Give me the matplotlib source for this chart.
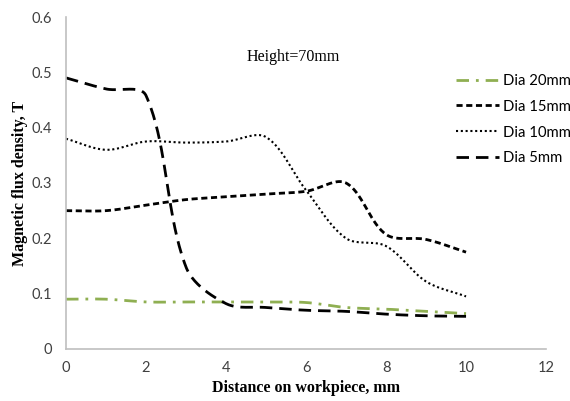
import numpy as np
import matplotlib
matplotlib.use("Agg")
import matplotlib.pyplot as plt

# Measured flux density along the workpiece, height 70 mm
distance = [0, 1, 2, 3, 4, 5, 6, 7, 8, 9, 10]
dia_20mm = [0.090, 0.090, 0.085, 0.085, 0.085, 0.085, 0.084, 0.075, 0.072, 0.068, 0.064]
dia_15mm = [0.250, 0.250, 0.260, 0.270, 0.275, 0.280, 0.285, 0.300, 0.207, 0.198, 0.175]
dia_10mm = [0.380, 0.360, 0.375, 0.373, 0.375, 0.383, 0.287, 0.200, 0.186, 0.122, 0.095]
dia_5mm = [0.490, 0.470, 0.458, 0.148, 0.082, 0.075, 0.070, 0.068, 0.063, 0.060, 0.059]

x_ticks = [0, 2, 4, 6, 8, 10, 12]
y_ticks = [0, 0.1, 0.2, 0.3, 0.4, 0.5, 0.6]
y_tick_labels = ["0", "0.1", "0.2", "0.3", "0.4", "0.5", "0.6"]


def smooth(x, y, sx=40.0, sy=553.0, n=40):
    """Bezier smoothing through every point; tangent lengths are split by
    chord length measured in display-like units (sx, sy per data unit)."""
    x = np.asarray(x, float)
    y = np.asarray(y, float)
    m = len(x)
    d = np.hypot(np.diff(x) * sx, np.diff(y) * sy)
    xs, ys = [], []
    t = np.linspace(0, 1, n)
    for i in range(m - 1):
        # outgoing control at point i
        if i == 0:
            c1x, c1y = x[i] + (x[i + 1] - x[i]) / 3, y[i] + (y[i + 1] - y[i]) / 3
        else:
            f = d[i] / (d[i - 1] + d[i]) / 3
            c1x = x[i] + (x[i + 1] - x[i - 1]) * f
            c1y = y[i] + (y[i + 1] - y[i - 1]) * f
        # incoming control at point i+1
        j = i + 1
        if j == m - 1:
            c2x, c2y = x[j] - (x[j] - x[i]) / 3, y[j] - (y[j] - y[i]) / 3
        else:
            f = d[i] / (d[i] + d[j]) / 3
            c2x = x[j] - (x[j + 1] - x[j - 1]) * f
            c2y = y[j] - (y[j + 1] - y[j - 1]) * f
        b0 = (1 - t) ** 3
        b1 = 3 * (1 - t) ** 2 * t
        b2 = 3 * (1 - t) * t ** 2
        b3 = t ** 3
        xs.append(b0 * x[i] + b1 * c1x + b2 * c2x + b3 * x[j])
        ys.append(b0 * y[i] + b1 * c1y + b2 * c2y + b3 * y[j])
    return np.concatenate(xs), np.concatenate(ys)


fig = plt.figure(figsize=(5.70, 4.01), dpi=100)
ax = fig.add_axes([0.1158, 0.1297, 0.8422, 0.8279])

series = [
    ("Dia 20mm", dia_20mm, dict(color="#8faf52", lw=2.0, ls=(0, (4.5, 2.5, 1, 2.5)))),
    ("Dia 15mm", dia_15mm, dict(color="black", lw=2.0, ls=(0, (2.2, 1.3)))),
    ("Dia 10mm", dia_10mm, dict(color="black", lw=1.5, ls=(0, (1, 1.3)))),
    ("Dia 5mm", dia_5mm, dict(color="black", lw=2.0, ls=(0, (4.5, 2.5)))),
]
for label, values, style in series:
    sx, sy = smooth(distance, values)
    ax.plot(sx, sy, label=label, color=style["color"], lw=style["lw"],
            linestyle=style["ls"], dash_capstyle="butt")

ax.set_xlim(0, 12)
ax.set_ylim(0, 0.6)
ax.set_xticks(x_ticks)
ax.set_yticks(y_ticks)
ax.set_yticklabels(y_tick_labels)
ax.tick_params(length=0, labelsize=10.5, labelcolor="#404040")
ax.tick_params(axis="x", pad=9)
ax.tick_params(axis="y", pad=10)
for lbl in ax.get_xticklabels() + ax.get_yticklabels():
    lbl.set_family("Lato")

for side in ("top", "right"):
    ax.spines[side].set_visible(False)
for side in ("left", "bottom"):
    ax.spines[side].set_color("#bfbfbf")
    ax.spines[side].set_linewidth(1.2)

ax.set_xlabel("Distance on workpiece, mm", family="Liberation Serif",
              fontweight="bold", fontsize=11.5)
ax.set_ylabel("Magnetic flux density, T", family="Liberation Serif",
              fontweight="bold", fontsize=11.5)
ax.xaxis.set_label_coords(0.5, -0.094)
ax.yaxis.set_label_coords(-0.08, 0.5)

fig.text(0.433, 0.857, "Height=70mm", family="Liberation Serif", fontsize=11.5,
         ha="left", va="center")

leg = ax.legend(loc="upper left", bbox_to_anchor=(0.800, 0.816),
                bbox_transform=fig.transFigure, frameon=False,
                prop={"family": "Lato", "size": 10.7}, handlelength=2.9,
                handletextpad=0.28, labelspacing=0.8, borderaxespad=0,
                borderpad=0)

fig.savefig("out.png", dpi=100)
